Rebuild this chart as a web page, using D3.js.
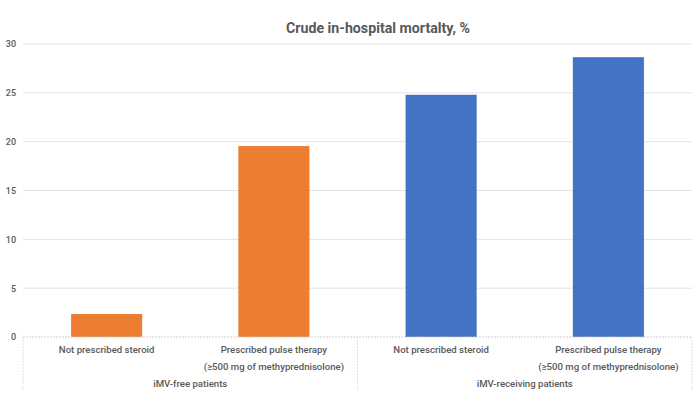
<!DOCTYPE html>
<html>
<head>
<meta charset="utf-8">
<script src="https://cdn.jsdelivr.net/npm/d3@7"></script>
<style>
  body { margin: 0; background: #fff; }
  text { font-family: Roboto, "DejaVu Sans Condensed", sans-serif; fill: #595959; }
</style>
</head>
<body>
<svg width="700" height="394"></svg>
<script>
// data
var groups = ["iMV-free patients", "iMV-receiving patients"];
var categories = [
  ["Not prescribed steroid"],
  ["Prescribed pulse therapy", "(\u2265500 mg of methyprednisolone)"],
  ["Not prescribed steroid"],
  ["Prescribed pulse therapy", "(\u2265500 mg of methyprednisolone)"]
];
var groupOf = [0, 0, 1, 1];
var values = [2.35, 19.55, 24.8, 28.65];
var yTicks = [0, 5, 10, 15, 20, 25, 30];
var colors = ["#ED7D31", "#4472C4"];

var svg = d3.select("svg"),
    margin = { top: 44, right: 8, bottom: 57, left: 23 },
    width = +svg.attr("width") - margin.left - margin.right,
    height = +svg.attr("height") - margin.top - margin.bottom;

var g = svg.append("g").attr("transform", "translate(" + margin.left + "," + margin.top + ")");

var x = d3.scaleBand()
    .domain(d3.range(values.length))
    .range([0, width])
    .paddingInner(0.575)
    .paddingOuter(0.2875);

var y = d3.scaleLinear().domain([0, 30]).range([height, 0]);

// title
svg.append("text")
    .attr("x", 378)
    .attr("y", 33)
    .attr("text-anchor", "middle")
    .style("font-size", "14.2px")
    .style("font-weight", "bold")
    .text("Crude in-hospital mortalty, %");

// gridlines
g.append("g")
    .selectAll("line")
    .data(yTicks.filter(function (d) { return d > 0; }))
    .enter().append("line")
    .attr("x1", 0).attr("x2", width)
    .attr("y1", function (d) { return y(d); })
    .attr("y2", function (d) { return y(d); })
    .attr("stroke", "#e3e3e3")
    .attr("stroke-width", 1);

// y axis labels
var yAxis = g.append("g")
    .call(d3.axisLeft(y).tickValues(yTicks).tickSize(0).tickPadding(7));
yAxis.select(".domain").remove();
yAxis.selectAll("text")
    .style("font-size", "9px")
    .style("font-family", "Roboto, sans-serif")
    .style("font-weight", "500")
    .attr("fill", "#595959");

// bars
g.append("g")
    .selectAll("rect")
    .data(values)
    .enter().append("rect")
    .attr("x", function (d, i) { return x(i); })
    .attr("width", x.bandwidth())
    .attr("y", function (d) { return y(d); })
    .attr("height", function (d) { return y(0) - y(d); })
    .attr("fill", function (d, i) { return colors[groupOf[i]]; });

// baseline
g.append("line")
    .attr("x1", 0).attr("x2", width)
    .attr("y1", y(0)).attr("y2", y(0))
    .attr("stroke", "#cfcfcf")
    .attr("stroke-dasharray", "2,1");

// category separators
var groupWidth = width / groups.length;
g.append("g")
    .selectAll("line")
    .data(d3.range(groups.length + 1))
    .enter().append("line")
    .attr("x1", function (d) { return d * groupWidth; })
    .attr("x2", function (d) { return d * groupWidth; })
    .attr("y1", y(0))
    .attr("y2", y(0) + 53)
    .attr("stroke", "#e0e0e0")
    .attr("stroke-dasharray", "2,1");

// category labels
var catLabels = g.append("g")
    .selectAll("text")
    .data(categories)
    .enter().append("text")
    .attr("text-anchor", "middle")
    .attr("transform", function (d, i) {
        return "translate(" + (x(i) + x.bandwidth() / 2) + "," + (y(0) + 16) + ")";
    })
    .style("font-size", "9.6px")
    .style("font-weight", "500");

catLabels.selectAll("tspan")
    .data(function (d) { return d; })
    .enter().append("tspan")
    .attr("x", 0)
    .attr("dy", function (d, i) { return i === 0 ? 0 : 17; })
    .text(function (d) { return d; });

// group labels
g.append("g")
    .selectAll("text")
    .data(groups)
    .enter().append("text")
    .attr("text-anchor", "middle")
    .attr("x", function (d, i) { return (i + 0.5) * groupWidth; })
    .attr("y", y(0) + 50)
    .style("font-size", "9.6px")
    .style("font-weight", "500")
    .text(function (d) { return d; });
</script>
</body>
</html>
